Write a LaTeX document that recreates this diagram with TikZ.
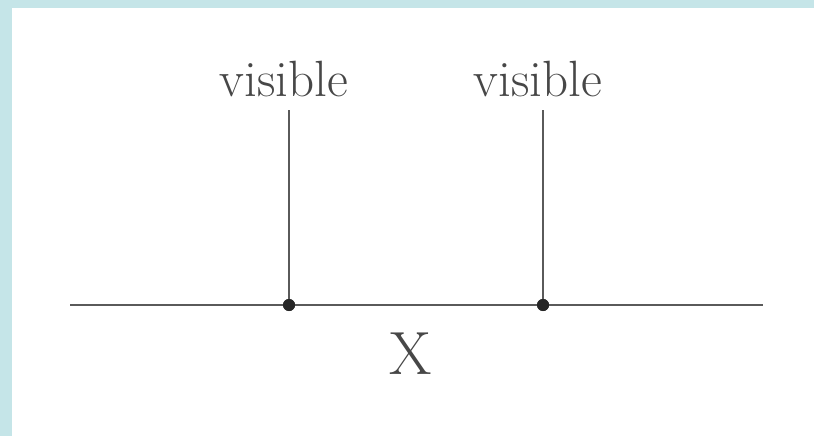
\documentclass[tikz,border=0pt]{standalone}
\usepackage{xcolor}
\definecolor{frame}{HTML}{C5E5E8}
\definecolor{ink}{HTML}{5A5A5A}
\definecolor{txt}{HTML}{474747}
\begin{document}
\begin{tikzpicture}[x=1pt,y=-1pt,
  wire/.style={draw=ink,line width=2.8pt},
  dotnode/.style={circle,fill=black!85,inner sep=0pt,minimum size=12pt},
  lbl/.style={text=txt,font=\fontsize{51}{58}\selectfont,inner sep=0pt,anchor=base},
  biglbl/.style={text=txt,font=\fontsize{61}{68}\selectfont,inner sep=0pt,anchor=base}]
\fill[frame] (0,0) rectangle (814,436);
\fill[white] (12,8) rectangle (814,436);
\useasboundingbox (0,0) rectangle (814,436);
\coordinate (L) at (70,305);
\coordinate (R) at (763,305);
\coordinate (t1) at (289,110);
\coordinate (t2) at (543,110);
\node[dotnode] (p1) at (289,305) {};
\node[dotnode] (p2) at (543,305) {};
\draw[wire] (L) -- (R);
\draw[wire] (t1) -- (p1.center);
\draw[wire] (t2) -- (p2.center);
\node[dotnode] at (p1) {};
\node[dotnode] at (p2) {};
\node[lbl] (v1) at (284,96) {visible};
\node[lbl] (v2) at (538,96) {visible};
\node[biglbl] (x) at (411,374) {X};
\end{tikzpicture}
\end{document}
